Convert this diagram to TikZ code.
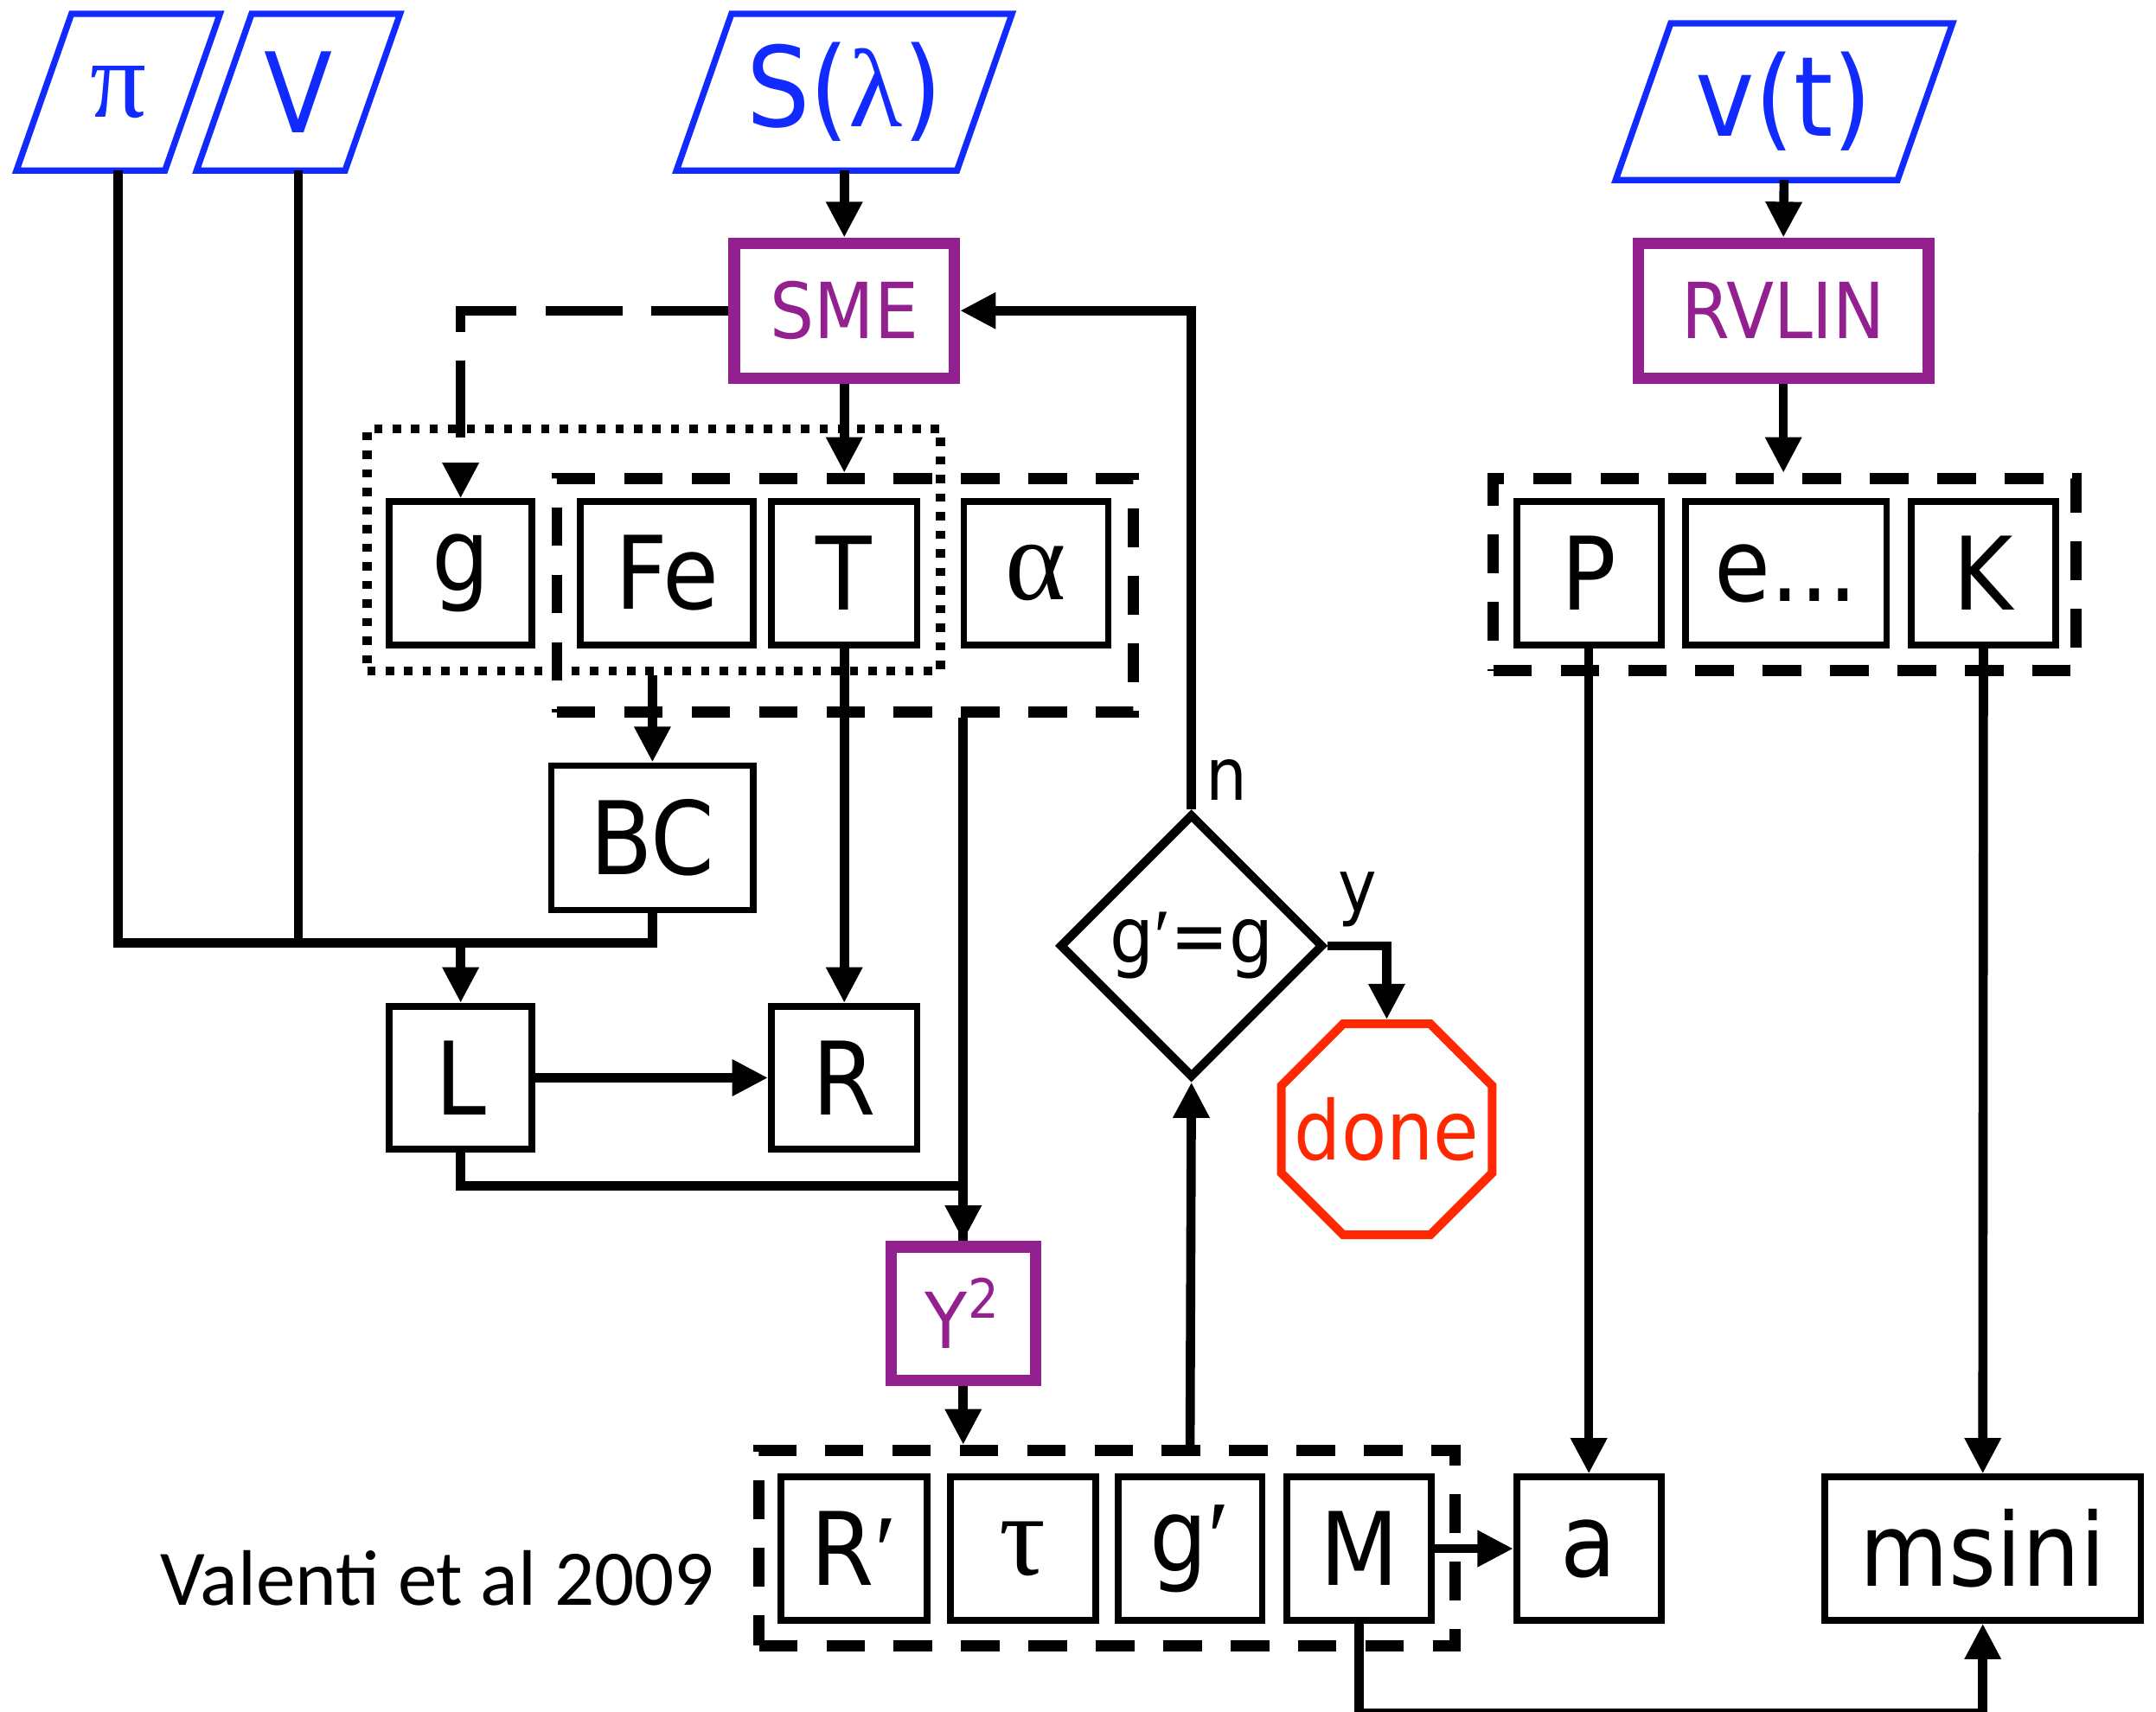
\documentclass[tikz,border=0pt]{standalone}
\usepackage{fontspec}
\setmainfont[FakeStretch=0.9]{DejaVu Sans}
\newfontfamily\grk{Liberation Serif}
\newfontfamily\valfont{Carlito}
\usetikzlibrary{shapes.geometric,arrows.meta}
\definecolor{inblue}{RGB}{16,42,255}
\definecolor{progpurple}{RGB}{146,32,142}
\definecolor{stopred}{RGB}{255,40,0}

\begin{document}
\begin{tikzpicture}[>={Triangle[length=0.26cm,width=0.25cm]}, line width=1.9pt,
		box/.style={draw, line width=1.4pt, inner sep=0pt, minimum height=1.04cm, font=\fontsize{21}{25}\selectfont},
		prog/.style={draw=progpurple, text=progpurple, line width=2.4pt, inner sep=0pt, font=\fontsize{16}{19}\selectfont},
		inp/.style={text=inblue, inner sep=0pt, outer sep=0pt, minimum height=1.14cm, minimum width=1.08cm, font=\fontsize{23}{27}\selectfont},
		slant/.style={draw=inblue, line width=1.3pt},
		group/.style={draw, line width=2.3pt, dash pattern=on 0.28cm off 0.21cm, inner sep=0pt},
		dotgroup/.style={draw, line width=1.8pt, dash pattern=on 0.06cm off 0.075cm, inner sep=0pt},
		longdash/.style={dash pattern=on 0.56cm off 0.21cm}]
		\useasboundingbox (0,0) rectangle (15.68,-12.45);
		\def\gk#1{{\grk\fontsize{24}{28}\selectfont #1}}
		\def\edots{e...}
		\def\pr{{\grk ′}}
		% inputs
		\node[inp] (pi) at (0.86,-0.67) {\grk π};
		\node[inp] (V) at (2.17,-0.67) {V};
		\node[inp, minimum width=2.04cm] (S) at (6.14,-0.67) {S({\grk λ})};
		\node[inp, minimum width=2.05cm] (vt) at (12.975,-0.74) {v(t)};
		\foreach \nm in {pi, V, S, vt}
			\draw[slant] ([xshift=-0.2cm]\nm.south west) -- ([xshift=-0.2cm]\nm.south east)
				-- ([xshift=0.2cm]\nm.north east) -- ([xshift=0.2cm]\nm.north west) -- cycle;
		% programs
		\node[prog, minimum width=1.60cm, minimum height=0.98cm] (SME) at (6.14,-2.26) {SME};
		\node[prog, minimum width=2.11cm, minimum height=0.98cm] (RVLIN) at (12.97,-2.26) {RVLIN};
		\node[prog, minimum width=1.05cm, minimum height=0.97cm] (Y2) at (7.005,-9.555) {Y\textsuperscript{2}};
		% groups
		\node[dotgroup, minimum width=4.17cm, minimum height=1.76cm] (gFeT) at (4.755,-4.00) {};
		\node[group, minimum width=4.19cm, minimum height=1.70cm] (FeTal) at (6.145,-4.33) {};
		\node[group, minimum width=4.24cm, minimum height=1.40cm] (PeK) at (12.98,-4.18) {};
		\node[group, minimum width=5.06cm, minimum height=1.42cm] (outs) at (8.05,-11.26) {};
		% parameter boxes
		\foreach \nm/\xx/\ww/\txt in {g/3.35/1.04/g, Fe/4.85/1.26/Fe, T/6.14/1.06/T, al/7.535/1.05/\gk{α},
			P/11.555/1.05/P, e/12.99/1.46/\edots, K/14.425/1.05/K}
			\node[box, minimum width=\ww cm] (\nm) at (\xx,-4.17) {\txt};
		\foreach \nm/\xx/\ww/\txt in {Rp/6.21/1.06/R\pr, tau/7.44/1.06/\gk{τ}, gp/8.655/1.05/g\pr, M/9.885/1.05/M,
			a/11.555/1.05/a, msini/14.42/2.30/msini}
			\node[box, minimum width=\ww cm] (\nm) at (\xx,-11.265) {\txt};
		\node[box, minimum width=1.47cm, minimum height=1.05cm] (BC) at (4.745,-6.095) {BC};
		\node[box] (L) at (3.35,-7.84) [minimum width=1.04cm] {L};
		\node[box] (R) at (6.14,-7.84) [minimum width=1.06cm] {R};
		% test and stop
		\node[diamond, draw, line width=1.8pt, inner sep=0pt, minimum width=1.92cm, minimum height=1.92cm,
			font=\fontsize{16}{19}\selectfont] (chk) at (8.665,-6.88) {g\pr=g};
		\node[regular polygon, regular polygon sides=8, draw=stopred, line width=1.8pt, inner sep=0pt,
			minimum size=1.66cm, label={[text=stopred, font=\fontsize{17}{20}\selectfont]center:done}] (done) at (10.085,-8.215) {};
		\node[font=\valfont\fontsize{16.3}{19}\selectfont] (cite) at (3.18,-11.48) {Valenti et al 2009};
		% connectors
		\coordinate (lj) at (3.35,-6.86);
		\draw (pi.south) |- (BC.south |- lj) -- (BC.south);
		\draw (V.south) -- (V.south |- lj);
		\draw[->] (lj) -- (L.north);
		\draw[->] (S.south) -- (SME.north);
		\draw[->, longdash] (SME.west) -| (g.north);
		\draw[->] (SME.south) -- (SME.south |- FeTal.north);
		\draw[->] (BC.north |- gFeT.south) -- (BC.north);
		\draw[->] (T.south) -- (R.north);
		\draw[->] (L.east) -- (R.west);
		\draw[->] (Y2.north |- FeTal.south) -- (Y2.north);
		\draw (L.south) -- ++(0,-0.24) -| (Y2.north);
		\draw[->] (Y2.south) -- (Y2.south |- outs.north);
		\draw[->] (gp.north |- outs.north) -- (chk.south);
		\draw[->] (chk.north) |- (SME.east) node[pos=0.03, right, inner sep=2pt, font=\fontsize{15}{18}\selectfont] (nlab) {n};
		\draw[->] (chk.east) -| (done.north) node[pos=0.25, above, inner sep=3pt, font=\fontsize{15}{18}\selectfont] (ylab) {y};
		\draw[->] (vt.south) -- (RVLIN.north);
		\draw[->] (RVLIN.south) -- (RVLIN.south |- PeK.north);
		\draw[->] (P.south) -- (a.north);
		\draw[->] (K.south) -- (msini.north);
		\draw[->] (M.east) -- (a.west);
		\draw[->] (M.south) -- ++(0,-0.65) -| (msini.south);
	\end{tikzpicture}
\end{document}
